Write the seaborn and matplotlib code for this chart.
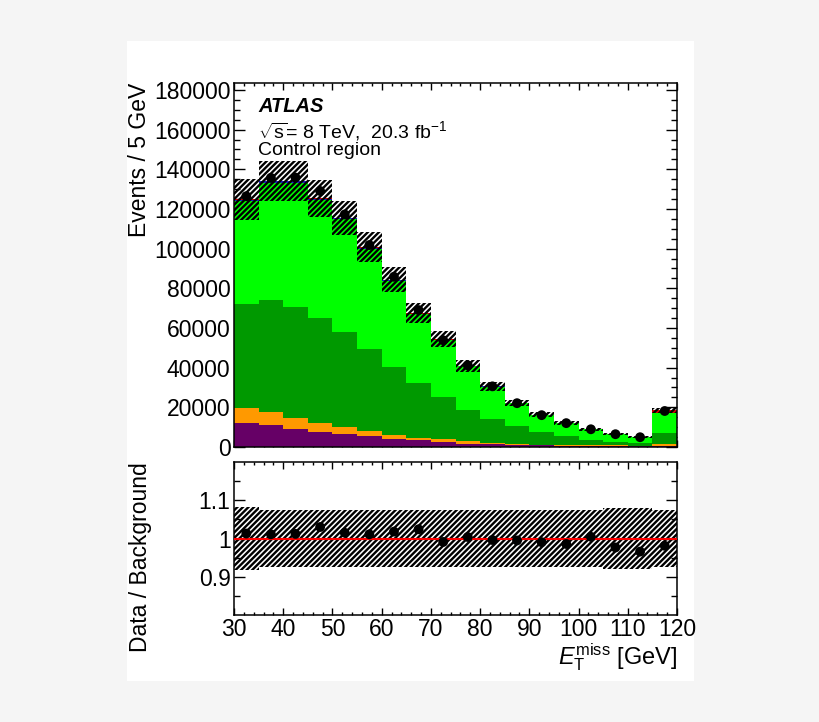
import matplotlib
matplotlib.use('Agg')
import matplotlib.pyplot as plt
import matplotlib.patches as mpatches
from matplotlib.ticker import MultipleLocator, FixedLocator
import numpy as np
import pandas as pd
import seaborn as sns

# bins of missing ET, 5 GeV wide (last bin holds the overflow)
edges = [30, 35, 40, 45, 50, 55, 60, 65, 70, 75, 80, 85, 90, 95, 100, 105, 110, 115, 120]
centers = np.array(edges[:-1]) + 2.5

# background contributions per bin (events / 5 GeV)
purple = [11850, 11000, 8950, 7600, 6750, 5400, 4200, 3350, 2500, 1700, 1400, 1000, 850, 700, 500, 500, 450, 600]
orange = [7650, 6400, 5450, 4600, 3350, 2700, 2050, 1350, 1350, 1150, 800, 500, 350, 300, 350, 300, 250, 700]
dark_green = [52600, 56800, 56300, 52900, 47700, 41500, 34250, 27600, 21550, 15950, 11800, 8900, 6400, 4500, 2850, 1800, 1300, 5600]
light_green = [51850, 59080, 62580, 59350, 56920, 50400, 43230, 34670, 28540, 21920, 16490, 11660, 8490, 6620, 5140, 3960, 3070, 10100]
blue = [600, 650, 650, 600, 550, 500, 400, 300, 250, 200, 150, 100, 80, 60, 40, 30, 25, 200]
red = [250, 270, 270, 250, 230, 200, 170, 130, 110, 80, 60, 45, 35, 25, 20, 15, 10, 1300]

# observed data
data = [126420, 135680, 135810, 129060, 117230, 101810, 85820, 69020, 53810, 41160, 30580, 22090, 16050, 12030, 8940, 6450, 4930, 18150]

# relative uncertainty on the total background
rel_unc = [0.082, 0.075, 0.075, 0.075, 0.075, 0.075, 0.075, 0.075, 0.075, 0.075, 0.075, 0.075, 0.075, 0.075, 0.075, 0.080, 0.080, 0.075]

procs = {'red': red, 'blue': blue, 'light_green': light_green,
         'dark_green': dark_green, 'orange': orange, 'purple': purple}
colors = {'red': '#e00000', 'blue': '#2020d0', 'light_green': '#00ff00',
          'dark_green': '#009900', 'orange': '#ff9900', 'purple': '#660066'}

rows = []
for name, vals in procs.items():
    for c, v in zip(centers, vals):
        rows.append({'met': c, 'events': v, 'process': name})
df = pd.DataFrame(rows)

total = np.sum([np.array(v) for v in procs.values()], axis=0)
unc = np.array(rel_unc)
data = np.array(data)

sns.set_style('ticks')
plt.rcParams['font.family'] = ['Liberation Sans', 'DejaVu Sans']
plt.rcParams['mathtext.fontset'] = 'custom'
plt.rcParams['mathtext.rm'] = 'Liberation Sans'
plt.rcParams['mathtext.it'] = 'Liberation Sans:italic'
plt.rcParams['mathtext.bf'] = 'Liberation Sans:bold'
plt.rcParams['hatch.linewidth'] = 1.7
plt.rcParams['axes.linewidth'] = 1.1
for k in ('text.color', 'axes.labelcolor', 'xtick.color', 'ytick.color', 'axes.edgecolor'):
    plt.rcParams[k] = 'black'

fig = plt.figure(figsize=(8.2, 7.22), dpi=100, facecolor='#f5f5f5')
fig.patches.append(mpatches.Rectangle((127/820, 41/722), 567/820, 640/722,
                                      transform=fig.transFigure, facecolor='white',
                                      edgecolor='none', zorder=-5))

ax = fig.add_axes([234/820, 1 - 447/722, 443/820, 364/722])
ax2 = fig.add_axes([234/820, 1 - 615/722, 443/820, 153/722])

# stacked backgrounds (last hue level ends up at the bottom)
sns.histplot(data=df, x='met', weights='events', hue='process',
             hue_order=list(procs.keys()), palette=colors, multiple='stack',
             bins=edges, element='step', alpha=1, linewidth=0, legend=False, ax=ax)

# uncertainty band on the stack
ax.bar(centers, 2 * total * unc, bottom=total * (1 - unc), width=5,
       facecolor='none', edgecolor='black', hatch='//////', linewidth=0, zorder=3)
sns.scatterplot(x=centers, y=data, color='black', s=50, edgecolor='none', ax=ax, zorder=5)

ax.set_xlim(30, 120)
ax.set_ylim(0, 183500)
ax.set_xlabel('')
ax.set_ylabel('')
ax.set_yticks(np.arange(0, 180001, 20000))
ax.set_yticklabels([f'{int(t)}' for t in np.arange(0, 180001, 20000)])
ax.yaxis.set_minor_locator(MultipleLocator(5000))

ax.text(0.054, 0.920, 'ATLAS', transform=ax.transAxes, fontsize=14.5,
        fontweight='bold', fontstyle='italic', va='baseline')
ax.text(0.054, 0.849, r'$\sqrt{\mathrm{s}}$= 8 TeV,  20.3 fb$^{\mathrm{-1}}$',
        transform=ax.transAxes, fontsize=14, va='baseline')
ax.text(0.054, 0.802, 'Control region', transform=ax.transAxes, fontsize=14, va='baseline')

# ratio panel
ax2.bar(centers, 2 * unc, bottom=1 - unc, width=5, facecolor='none',
        edgecolor='black', hatch='//////', linewidth=0, zorder=2)
ax2.axhline(1.0, color='red', linewidth=1.5, zorder=3)
sns.scatterplot(x=centers, y=data / total, color='black', s=50, edgecolor='none',
                ax=ax2, zorder=5)
ax2.set_xlim(30, 120)
ax2.set_ylim(0.8, 1.2)
ax2.set_yticks([0.9, 1.0, 1.1])
ax2.set_yticklabels(['0.9', '1', '1.1'])
ax2.yaxis.set_minor_locator(FixedLocator([0.85, 0.95, 1.05, 1.15]))

for a in (ax, ax2):
    a.xaxis.set_major_locator(MultipleLocator(10))
    a.xaxis.set_minor_locator(MultipleLocator(2))
    a.tick_params(which='both', direction='in', top=True, right=True,
                  labelsize=16.5, pad=2.5, width=1, color='black')
    a.tick_params(axis='y', which='major', length=8)
    a.tick_params(axis='y', which='minor', length=4)
    a.tick_params(axis='x', which='major', length=5)
    a.tick_params(axis='x', which='minor', length=2.5)
    for s in a.spines.values():
        s.set_color('black')
ax.tick_params(axis='x', labelbottom=False)

fig.text(140/820, 1 - 83/722, 'Events / 5 GeV', rotation=90, ha='center',
         va='top', fontsize=16.5)
fig.text(140/820, 1 - 462/722, 'Data / Background', rotation=90, ha='center',
         va='top', fontsize=16.5)
fig.text(677/820, 1 - 664/722, r'$E_{\mathrm{T}}^{\mathrm{miss}}$ [GeV]', ha='right',
         va='baseline', fontsize=17)

fig.savefig('out.png', dpi=100, facecolor=fig.get_facecolor())
